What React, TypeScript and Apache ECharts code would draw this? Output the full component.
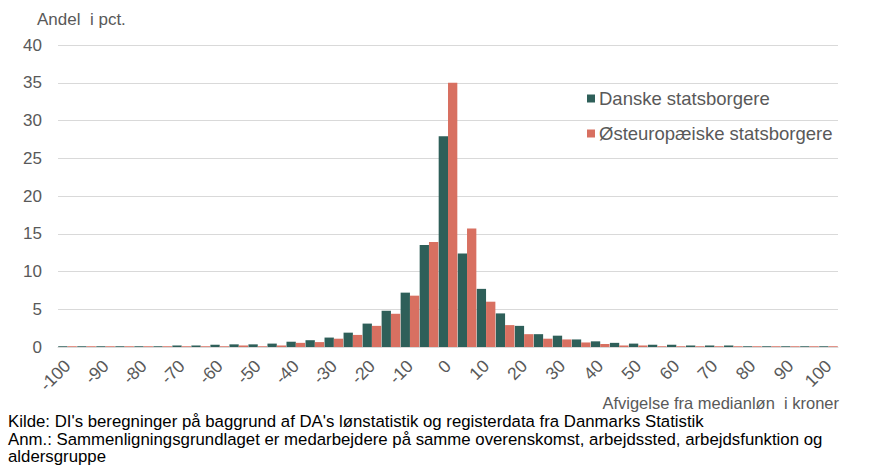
import React, { useEffect, useRef } from "react";
import * as echarts from "echarts";

const categories: string[] = [
  "-100", "-95", "-90", "-85", "-80", "-75", "-70", "-65", "-60", "-55",
  "-50", "-45", "-40", "-35", "-30", "-25", "-20", "-15", "-10", "-5",
  "0", "5", "10", "15", "20", "25", "30", "35", "40", "45",
  "50", "55", "60", "65", "70", "75", "80", "85", "90", "95", "100",
];

const danske: number[] = [
  0.1, 0.1, 0.1, 0.1, 0.1, 0.1, 0.2, 0.2, 0.3, 0.35,
  0.35, 0.45, 0.7, 0.9, 1.25, 1.9, 3.1, 4.8, 7.2, 13.5,
  27.9, 12.4, 7.7, 4.45, 2.8, 1.7, 1.5, 1.0, 0.75, 0.55,
  0.45, 0.3, 0.3, 0.2, 0.2, 0.2, 0.1, 0.1, 0.1, 0.1, 0.1,
];

const oesteuropaeiske: number[] = [
  0.1, 0.1, 0.1, 0.1, 0.1, 0.1, 0.1, 0.1, 0.1, 0.2,
  0.1, 0.2, 0.55, 0.65, 1.1, 1.6, 2.8, 4.4, 6.8, 13.9,
  35.0, 15.7, 6.0, 2.9, 1.7, 1.1, 1.0, 0.6, 0.4, 0.2,
  0.2, 0.1, 0.1, 0.1, 0.1, 0.1, 0.1, 0.1, 0.1, 0.1, 0.1,
];

const seriesNames = ["Danske statsborgere", "Østeuropæiske statsborgere"];
const yTitle = "Andel  i pct.";
const xTitle = "Afvigelse fra medianløn  i kroner";
const notes = [
  "Kilde: DI's beregninger på baggrund af DA's lønstatistik og registerdata fra Danmarks Statistik",
  "Anm.: Sammenligningsgrundlaget er medarbejdere på samme overenskomst, arbejdssted, arbejdsfunktion og",
  "aldersgruppe",
];

const FONT = "'Liberation Sans', Arial, sans-serif";
const GREY = "#595959";

export default function App() {
  const ref = useRef<HTMLDivElement>(null);
  useEffect(() => {
    if (!ref.current) return;
    const chart = echarts.init(ref.current, undefined, { renderer: "svg" });
    chart.setOption({
      animation: false,
      textStyle: { fontFamily: FONT },
      grid: { left: 58, right: 32, top: 45, bottom: 121, containLabel: false },
      legend: {
        orient: "vertical",
        left: 582,
        top: 84,
        itemWidth: 8,
        itemHeight: 8,
        itemGap: 16,
        icon: "rect",
        textStyle: { fontSize: 18.5, color: GREY, fontFamily: FONT, padding: [0, 0, 0, -1] },
        data: seriesNames,
      },
      xAxis: {
        type: "category",
        data: categories,
        axisTick: { show: false },
        axisLine: { show: true, lineStyle: { color: "#d9d9d9" } },
        axisLabel: {
          interval: 1,
          rotate: 45,
          fontSize: 17.5,
          color: GREY,
          fontFamily: FONT,
          margin: 16,
        },
      },
      yAxis: {
        type: "value",
        min: 0,
        max: 40,
        interval: 5,
        axisLine: { show: false },
        axisTick: { show: false },
        axisLabel: { fontSize: 17, color: GREY, fontFamily: FONT, margin: 16 },
        splitLine: { lineStyle: { color: "#d9d9d9", width: 1 } },
      },
      series: [
        {
          name: seriesNames[0],
          type: "bar",
          data: danske,
          itemStyle: { color: "#2E5F59" },
          barGap: "0%",
          barCategoryGap: "2%",
        },
        {
          name: seriesNames[1],
          type: "bar",
          data: oesteuropaeiske,
          itemStyle: { color: "#D87061" },
        },
      ],
      graphic: [
        {
          type: "text",
          left: 37,
          top: 11,
          style: { text: yTitle, fontSize: 17, fill: GREY, fontFamily: FONT },
        },
        {
          type: "text",
          right: 31,
          top: 394,
          style: { text: xTitle, fontSize: 16.5, fill: GREY, fontFamily: FONT },
        },
        ...notes.map((t, i) => ({
          type: "text",
          left: 8,
          top: 413 + i * 17.5,
          style: { text: t, fontSize: 16.8, fill: "#000", fontFamily: FONT },
        })),
      ],
    });
    return () => chart.dispose();
  }, []);
  return <div ref={ref} style={{ width: 870, height: 468, position: "absolute", left: 0, top: 0 }} />;
}
